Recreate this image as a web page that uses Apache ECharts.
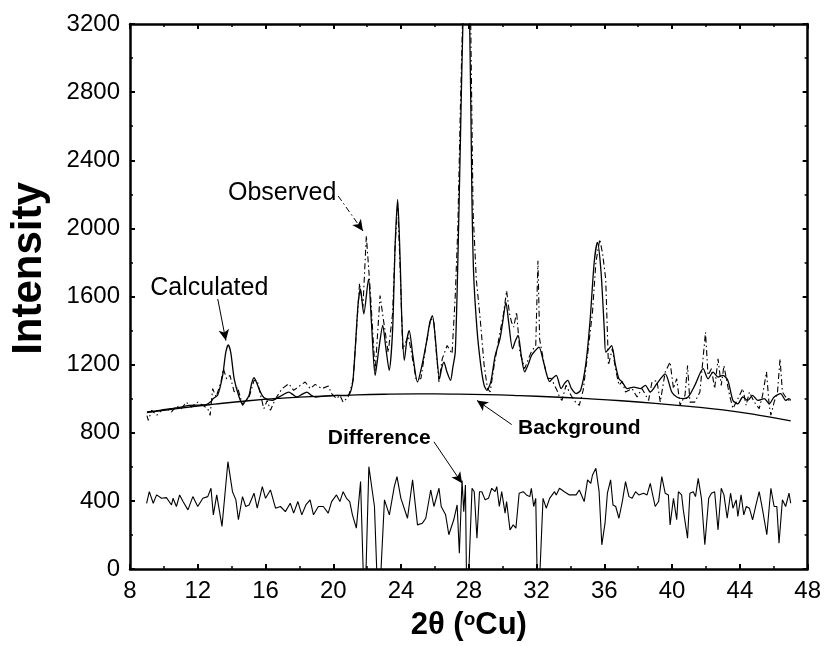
<!DOCTYPE html>
<html>
<head>
<meta charset="utf-8">
<script src="https://cdn.jsdelivr.net/npm/echarts@6/dist/echarts.min.js"></script>
<style>html,body{margin:0;padding:0;background:#fff}#c{width:824px;height:646px}</style>
</head>
<body>
<div id="c"></div>
<script>
// ---- axis ticks ----
const xTicks = [8, 12, 16, 20, 24, 28, 32, 36, 40, 44, 48];
const yTicks = [0, 400, 800, 1200, 1600, 2000, 2400, 2800, 3200];

// ---- Calculated profile [2θ, intensity] ----
const calculated = [
[9.0,922],[9.5,928],[10.0,935],[10.4,941],[11.0,950],[11.5,961],[12.0,962],[12.5,965],[12.8,985],[12.9,1000],
[13.17,1020],[13.47,1137],[13.65,1270],[13.8,1316],[13.95,1270],[14.15,1117],[14.44,1010],[14.64,971],[14.85,990],[15.03,1020],
[15.18,1090],[15.32,1123],[15.45,1100],[15.61,1059],[15.8,1020],[16.0,1000],[16.39,990],[16.7,1005],[16.98,1020],[17.37,1039],
[17.6,1025],[17.85,1010],[18.15,1025],[18.44,1039],[18.7,1020],[18.93,1010],[19.5,1015],[20.1,1020],[20.5,1018],[20.88,1020],
[21.05,1050],[21.17,1117],[21.3,1300],[21.46,1550],[21.6,1644],[21.8,1498],[22.08,1702],[22.25,1450],[22.47,1137],[22.7,1300],
[22.92,1430],[23.1,1300],[23.3,1166],[23.5,1400],[23.65,1900],[23.8,2170],[23.95,1800],[24.05,1450],[24.19,1225],[24.35,1350],
[24.48,1400],[24.7,1250],[24.97,1098],[25.2,1180],[25.5,1330],[25.7,1450],[25.85,1488],[26.0,1380],[26.27,1117],[26.4,1180],
[26.53,1215],[26.7,1160],[26.92,1108],[27.05,1180],[27.2,1275],[27.35,1800],[27.5,2500],[27.65,3200],[27.85,3700],[28.05,3200],
[28.18,2200],[28.28,1742],[28.48,1410],[28.7,1200],[28.9,1080],[29.07,1049],[29.3,1100],[29.55,1250],[29.84,1351],[30.0,1450],
[30.19,1566],[30.35,1450],[30.58,1293],[30.75,1340],[30.91,1371],[31.1,1250],[31.3,1157],[31.5,1200],[31.7,1254],[31.9,1280],
[32.14,1303],[32.4,1220],[32.6,1140],[32.77,1100],[32.95,1120],[33.16,1137],[33.45,1059],[33.65,1090],[33.84,1108],[34.05,1060],
[34.33,1030],[34.6,1050],[34.9,1200],[35.15,1450],[35.4,1800],[35.59,1917],[35.8,1750],[36.0,1400],[36.08,1273],[36.25,1290],
[36.43,1312],[36.65,1200],[36.86,1117],[37.05,1098],[37.35,1059],[37.74,1068],[38.13,1059],[38.42,1078],[38.71,1039],[39.1,1088],
[39.59,1146],[39.98,1039],[40.27,1010],[40.66,1000],[40.95,1010],[41.34,1078],[41.83,1176],[42.12,1117],[42.42,1156],[42.71,1127],
[43.0,1137],[43.29,1107],[43.59,990],[43.88,970],[44.17,1010],[44.46,990],[44.75,1020],[45.05,990],[45.44,1000],[45.73,970],
[46.02,1010],[46.41,1030],[46.7,990],[46.9,1000],[47.0,990]
];

// ---- Observed profile [2θ, intensity] ----
const observed = [
[9.0,900],[9.08,873],[9.28,932],[9.57,902],[9.86,932],[10.15,941],[10.45,922],[10.74,957],[11.03,941],[11.32,980],
[11.62,951],[12.0,980],[12.3,961],[12.59,941],[12.73,902],[12.88,1059],[13.08,1010],[13.37,1098],[13.51,1176],[13.7,1117],
[13.9,1137],[14.15,1040],[14.35,1068],[14.64,961],[15.03,1010],[15.32,1107],[15.51,1107],[15.71,1020],[15.9,941],[16.1,990],
[16.29,932],[16.59,1000],[16.98,1059],[17.37,1088],[17.66,1049],[18.05,1078],[18.34,1098],[18.64,1059],[18.93,1084],[19.32,1059],
[19.71,1074],[19.9,1030],[20.19,1000],[20.39,1020],[20.58,980],[20.88,1010],[21.17,1107],[21.36,1390],[21.55,1677],[21.75,1540],
[21.95,1956],[22.18,1638],[22.47,1157],[22.76,1605],[22.95,1470],[23.24,1271],[23.5,1500],[23.65,1900],[23.8,2150],[23.95,1750],
[24.1,1290],[24.43,1368],[24.65,1250],[24.88,1117],[25.17,1117],[25.45,1300],[25.75,1470],[25.94,1450],[26.1,1250],[26.24,1098],
[26.43,1234],[26.72,1312],[27.01,1264],[27.2,1605],[27.35,2000],[27.5,2700],[27.65,3300],[27.9,3700],[28.1,3300],[28.25,2100],
[28.44,1702],[28.67,1470],[28.9,1200],[29.1,1060],[29.26,1040],[29.5,1200],[29.84,1390],[30.05,1500],[30.23,1634],[30.4,1500],
[30.52,1450],[30.65,1420],[30.82,1509],[31.01,1275],[31.3,1177],[31.5,1230],[31.69,1275],[31.95,1313],[32.08,1810],[32.18,1350],
[32.28,1294],[32.5,1180],[32.67,1118],[32.85,1120],[33.06,1079],[33.2,1050],[33.35,1010],[33.5,990],[33.74,1079],[34.03,1020],
[34.3,980],[34.52,961],[34.75,1050],[35.0,1250],[35.3,1509],[35.5,1800],[35.73,1936],[35.9,1850],[36.08,1702],[36.24,1197],
[36.47,1294],[36.65,1180],[36.86,1079],[37.05,1100],[37.25,1039],[37.64,1059],[37.93,1010],[38.22,1059],[38.61,990],[38.81,1098],
[39.1,1107],[39.3,980],[39.59,1156],[39.88,1215],[40.08,1059],[40.27,1117],[40.47,961],[40.76,1020],[40.91,1195],[41.05,980],
[41.34,980],[41.64,1039],[41.97,1390],[42.12,1137],[42.32,1176],[42.51,1059],[42.71,1234],[42.9,1078],[43.06,1195],[43.2,1117],
[43.39,1020],[43.59,942],[43.88,1000],[44.17,1059],[44.37,961],[44.56,1039],[44.85,980],[45.14,942],[45.34,1020],[45.57,1158],
[45.73,961],[45.83,903],[46.02,980],[46.22,1039],[46.37,1234],[46.51,1039],[46.7,1010],[46.9,990],[47.0,1000]
];

// ---- Background [2θ, intensity] ----
const background = [
[9,918],[11,945],[13,968],[15,988],[17,1003],[19,1014],[21,1021],[23,1026],[25,1028],[27,1027],
[29,1024],[31,1018],[33,1010],[35,1000],[37,988],[39,973],[41,955],[43,934],[45,905],[47,870]
];

// ---- Difference (offset) [2θ, intensity] ----
const difference = [
[8.98,386],[9.14,454],[9.37,386],[9.57,435],[9.86,415],[10.15,419],[10.45,376],[10.54,415],[10.74,367],[10.93,435],
[11.13,396],[11.42,347],[11.71,425],[12.0,367],[12.3,415],[12.59,425],[12.78,474],[12.92,318],[13.12,435],[13.43,250],
[13.78,630],[14.05,454],[14.25,406],[14.4,289],[14.64,425],[14.83,367],[15.03,376],[15.32,445],[15.51,357],[15.81,484],
[16.0,415],[16.29,464],[16.59,357],[16.88,367],[17.17,337],[17.46,386],[17.66,328],[17.91,396],[18.14,318],[18.38,376],
[18.63,406],[18.83,318],[19.12,367],[19.41,367],[19.7,328],[19.9,396],[20.19,435],[20.39,396],[20.58,454],[20.78,415],
[20.97,396],[21.13,318],[21.36,240],[21.61,513],[21.85,-300],[22.1,601],[22.43,367],[22.67,-300],[23.02,406],[23.31,318],
[23.6,484],[23.76,542],[23.99,415],[24.38,298],[24.68,523],[24.97,259],[25.26,269],[25.46,298],[25.75,464],[25.94,367],
[26.24,474],[26.37,367],[26.63,318],[26.82,201],[27.11,289],[27.31,376],[27.44,93],[27.6,520],[27.7,337],[27.8,493],
[27.89,-300],[27.99,-300],[28.19,474],[28.32,454],[28.48,181],[28.63,454],[28.77,454],[28.96,406],[29.16,415],[29.35,474],
[29.55,454],[29.65,484],[29.8,367],[29.94,454],[30.14,328],[30.23,396],[30.43,230],[30.62,259],[30.78,240],[30.97,445],
[31.21,454],[31.4,435],[31.6,425],[31.69,474],[31.83,367],[31.95,415],[32.08,-300],[32.18,-300],[32.38,415],[32.57,357],
[32.77,415],[33.06,454],[33.16,435],[33.35,474],[33.64,454],[33.94,435],[34.33,435],[34.52,464],[34.81,396],[35.01,523],
[35.2,503],[35.3,552],[35.5,591],[35.69,454],[35.85,142],[36.04,269],[36.18,445],[36.37,523],[36.51,376],[36.67,367],
[36.86,298],[37.06,396],[37.25,513],[37.45,425],[37.64,415],[37.84,454],[38.03,435],[38.32,445],[38.52,435],[38.71,503],
[39.0,367],[39.2,396],[39.39,542],[39.59,445],[39.78,435],[39.88,259],[40.08,415],[40.27,289],[40.37,454],[40.56,435],
[40.66,347],[40.91,181],[41.05,445],[41.25,454],[41.38,425],[41.54,532],[41.73,415],[41.93,142],[42.16,415],[42.32,445],
[42.51,454],[42.71,230],[42.9,474],[43.06,435],[43.25,298],[43.45,445],[43.59,357],[43.78,406],[43.88,308],[44.07,435],
[44.23,318],[44.38,367],[44.56,357],[44.75,289],[44.95,376],[45.14,454],[45.34,347],[45.59,201],[45.83,474],[46.02,367],
[46.18,367],[46.31,152],[46.51,406],[46.7,367],[46.9,445],[47.0,386]
];

// ---- annotations ----
const annotLabels = ['Observed', 'Calculated', 'Difference', 'Background'];
const annotText = [[16.98, 2205], [12.68, 1650], [22.71, 766], [34.52, 825]];
const annotFrom = [[20.29, 2190], [13.18, 1585], [25.94, 747], [30.53, 848]];
const annotTo = [[21.75, 1985], [13.66, 1341], [27.6, 503], [28.48, 990]];
const annotBold = [false, false, true, true];

const FONT = 'Liberation Sans, Arial, sans-serif';
const chart = echarts.init(document.getElementById('c'), null, {renderer: 'canvas'});

function axisCommon(showLabel) {
  return {
    axisLine: {show: true, onZero: false, lineStyle: {color: '#000', width: 2.5}},
    axisTick: {show: true, inside: true, length: 5, lineStyle: {color: '#000', width: 2}},
    minorTick: {show: true, splitNumber: 2, length: 3, lineStyle: {color: '#000', width: 1.5}},
    splitLine: {show: false},
    minorSplitLine: {show: false},
    axisLabel: {show: showLabel, color: '#000', fontFamily: FONT, fontSize: 24, margin: 10,
                formatter: v => String(v)}
  };
}

const xMin = xTicks[0], xMax = xTicks[xTicks.length - 1], xInt = xTicks[1] - xTicks[0];
const yMin = yTicks[0], yMax = yTicks[yTicks.length - 1], yInt = yTicks[1] - yTicks[0];

const markPts = annotLabels.map((t, i) => ({
  name: t, coord: annotText[i], value: t,
  symbol: 'circle', symbolSize: 1, itemStyle: {color: 'rgba(0,0,0,0)'},
  label: {show: true, position: 'inside', formatter: t, color: '#000', fontFamily: FONT,
          fontSize: annotBold[i] ? 21 : 25, fontWeight: annotBold[i] ? 'bold' : 'normal'}
}));
const markLns = annotLabels.map((t, i) => ([
  {coord: annotFrom[i], symbol: 'none'},
  {coord: annotTo[i], symbol: 'arrow', symbolSize: [8, 11],
   lineStyle: {color: '#000', width: 1, type: i === 0 ? [6, 3, 1.5, 3] : 'solid'}}
]));

chart.setOption({
  animation: false,
  backgroundColor: '#fff',
  grid: {left: 127, right: 15, top: 24, bottom: 75, containLabel: false},
  xAxis: [
    Object.assign({type: 'value', min: xMin, max: xMax, interval: xInt, position: 'bottom',
      name: '2θ ({sup|o}Cu)', nameLocation: 'middle', nameGap: 41,
      nameTextStyle: {color: '#000', fontFamily: FONT, fontSize: 31, fontWeight: 'bold',
        rich: {sup: {fontSize: 19, fontWeight: 'bold', fontFamily: FONT, color: '#000', verticalAlign: 'top', padding: [0, 0, 12, 0]}}}
    }, axisCommon(true)),
    Object.assign({type: 'value', min: xMin, max: xMax, interval: xInt, position: 'top'}, axisCommon(false))
  ],
  yAxis: [
    Object.assign({type: 'value', min: yMin, max: yMax, interval: yInt, position: 'left',
      name: 'Intensity', nameLocation: 'middle', nameGap: 80, nameRotate: 90,
      nameTextStyle: {color: '#000', fontFamily: FONT, fontSize: 42, fontWeight: 'bold', padding: [0, 0, 0, 56]}
    }, axisCommon(true)),
    Object.assign({type: 'value', min: yMin, max: yMax, interval: yInt, position: 'right'}, axisCommon(false))
  ],
  series: [
    {name: 'Background', type: 'line', data: background, showSymbol: false, smooth: true,
     lineStyle: {color: '#000', width: 1.3}, clip: true, z: 2},
    {name: 'Observed', type: 'line', data: observed, showSymbol: false,
     lineStyle: {color: '#000', width: 1.1, type: [6, 3, 1.5, 3]}, clip: true, z: 3},
    {name: 'Calculated', type: 'line', data: calculated, showSymbol: false, smooth: 0.25,
     lineStyle: {color: '#000', width: 1.3}, clip: true, z: 4,
     markPoint: {data: markPts, silent: true},
     markLine: {data: markLns, silent: true, label: {show: false}, symbol: ['none', 'arrow'],
                lineStyle: {color: '#000', width: 1, type: 'solid'}}},
    {name: 'Difference', type: 'line', data: difference, showSymbol: false,
     lineStyle: {color: '#000', width: 1.1}, clip: true, z: 3}
  ]
});
</script>
</body>
</html>
